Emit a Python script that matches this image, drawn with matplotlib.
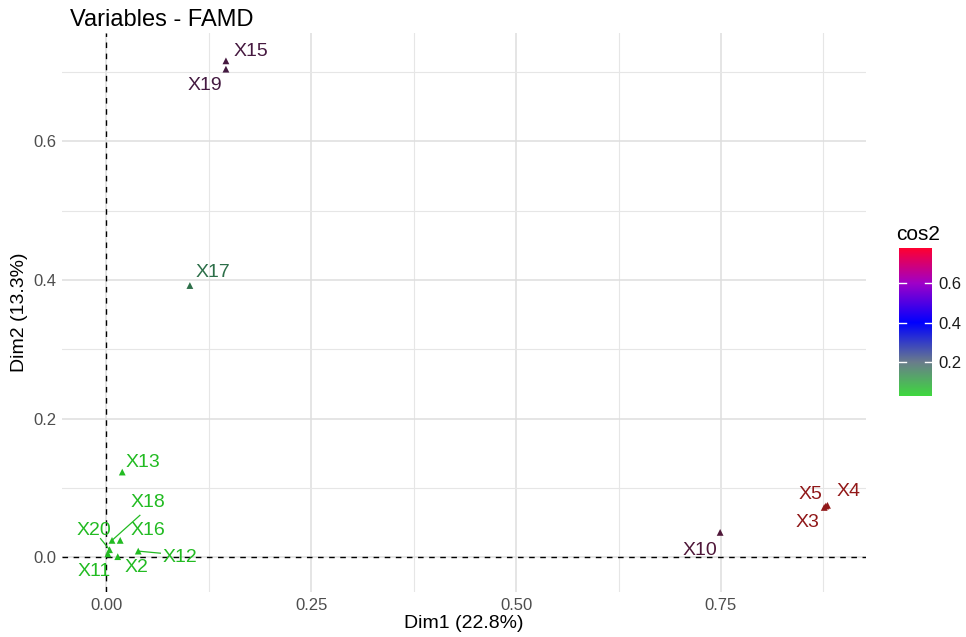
import matplotlib
matplotlib.use("Agg")
import matplotlib.pyplot as plt
from matplotlib.colors import LinearSegmentedColormap, Normalize
import numpy as np

plt.rcParams['font.family'] = ['Liberation Sans', 'DejaVu Sans']

names = ["X15", "X19", "X17", "X13", "X18", "X16", "X20", "X11", "X2", "X12", "X10", "X4", "X5", "X3"]
dim1 = [0.146, 0.146, 0.102, 0.0195, 0.007, 0.017, 0.004, 0.002, 0.014, 0.039, 0.749, 0.880, 0.878, 0.876]
dim2 = [0.716, 0.704, 0.392, 0.123, 0.0245, 0.0245, 0.011, 0.005, 0.001, 0.009, 0.036, 0.075, 0.074, 0.072]
cos2 = [0.53, 0.51, 0.17, 0.02, 0.02, 0.02, 0.02, 0.02, 0.02, 0.02, 0.57, 0.78, 0.77, 0.77]
# label positions (repelled)
lab_x = [0.177, 0.120, 0.130, 0.045, 0.051, 0.051, -0.015, -0.015, 0.037, 0.090, 0.724, 0.906, 0.859, 0.856]
lab_y = [0.729, 0.680, 0.411, 0.137, 0.079, 0.039, 0.039, -0.021, -0.015, 0.000, 0.010, 0.095, 0.090, 0.050]
# repel segments: label-side end points
seg_names = ["X18", "X20", "X12"]
seg_x = [0.041, -0.007, 0.066]
seg_y = [0.0606, 0.027, 0.006]

vmin, vmax = 0.028, 0.777
cb_ticks = [0.2, 0.4, 0.6]

def pos(v):
    return (v - vmin) / (vmax - vmin)

bar_cmap = LinearSegmentedColormap.from_list("g2", [
    (0.0, "#3FD83F"), (pos(0.2), "#6A7C8C"), (pos(0.4), "#0000FF"),
    (pos(0.6), "#A000C8"), (1.0, "#FF0030")])
pt_cmap = LinearSegmentedColormap.from_list("g2d", [
    (0.0, "#22BB22"), (pos(0.2), "#2F5E52"), (pos(0.4), "#3A1E46"),
    (pos(0.55), "#48183F"), (pos(0.65), "#6A1424"), (1.0, "#921818")])
norm = Normalize(vmin, vmax)

fig = plt.figure(figsize=(9.66, 6.37), dpi=100)
ax = fig.add_axes([0.0642, 0.0706, 0.8323, 0.8774])
ax.set_xlim(-0.054, 0.927)
ax.set_ylim(-0.05, 0.756)
for s in ax.spines.values():
    s.set_visible(False)
ax.set_xticks([0.0, 0.25, 0.5, 0.75])
ax.set_xticklabels(["0.00", "0.25", "0.50", "0.75"])
ax.set_yticks([0.0, 0.2, 0.4, 0.6])
ax.set_yticklabels(["0.0", "0.2", "0.4", "0.6"])
ax.set_xticks([0.125, 0.375, 0.625, 0.875], minor=True)
ax.set_yticks([0.1, 0.3, 0.5, 0.7], minor=True)
ax.grid(True, which="major", color="#DEDEDE", lw=1.1)
ax.grid(True, which="minor", color="#E6E6E6", lw=0.8)
ax.set_axisbelow(True)
ax.tick_params(which="both", length=0, labelsize=12, labelcolor="#4D4D4D", pad=4)
ax.axvline(0, color="black", ls=(0, (4, 4)), lw=1)
ax.axhline(0, color="black", ls=(0, (4, 4)), lw=1)

cols = [pt_cmap(norm(c)) for c in cos2]
for n, sx, sy in zip(seg_names, seg_x, seg_y):
    i = names.index(n)
    ax.plot([sx, dim1[i]], [sy, dim2[i]], color=cols[i], lw=0.9, zorder=3)
ax.scatter(dim1, dim2, marker="^", s=24, c=cols, zorder=4, linewidths=0)
for i in range(len(names)):
    ax.text(lab_x[i], lab_y[i], names[i], color=cols[i], fontsize=14,
            ha="center", va="center", zorder=5)

ax.set_xlabel("Dim1 (22.8%)", fontsize=14, labelpad=2)
ax.set_ylabel("Dim2 (13.3%)", fontsize=14, labelpad=4)
fig.text(0.0725, 0.968, "Variables - FAMD", fontsize=17, ha="left", va="center")

cax = fig.add_axes([0.9307, 0.378, 0.034, 0.232])
grad = np.linspace(vmin, vmax, 256).reshape(-1, 1)
cax.imshow(grad, aspect="auto", cmap=bar_cmap, norm=norm, origin="lower",
           extent=[0, 1, vmin, vmax])
cax.set_xlim(0, 1)
cax.set_ylim(vmin, vmax)
cax.set_xticks([])
cax.yaxis.tick_right()
cax.set_yticks(cb_ticks)
cax.set_yticklabels(["0.2", "0.4", "0.6"])
cax.tick_params(axis="y", length=0, labelsize=12, labelcolor="#1A1A1A", pad=5)
for t in cb_ticks:
    cax.plot([0, 0.2], [t, t], color="white", lw=1)
    cax.plot([0.8, 1], [t, t], color="white", lw=1)
for s in cax.spines.values():
    s.set_visible(False)
fig.text(0.928, 0.632, "cos2", fontsize=15, ha="left", va="center")

fig.savefig("out.png", dpi=100)
